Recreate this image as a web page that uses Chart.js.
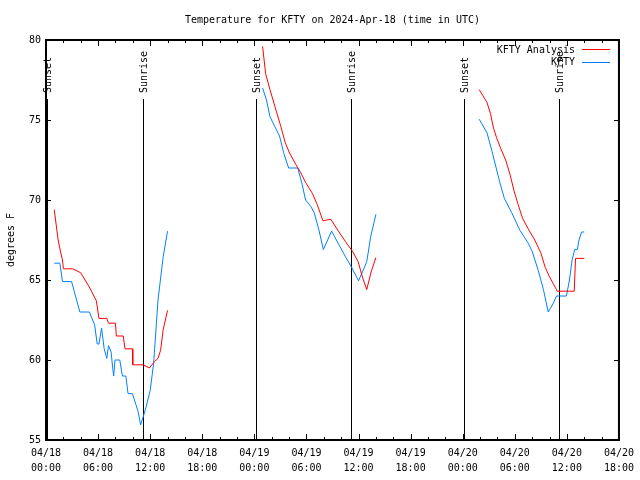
<!DOCTYPE html>
<html>
<head>
<meta charset="utf-8">
<script src="https://cdn.jsdelivr.net/npm/chart.js@4"></script>
<style>
  body { margin: 0; background: #fff; }
</style>
</head>
<body>
<canvas id="myChart" width="640" height="480"></canvas>
<script>
// hours since 04/18 00:00 UTC
const xTickLabels = [
    ['04/18', '00:00'], ['04/18', '06:00'], ['04/18', '12:00'], ['04/18', '18:00'],
    ['04/19', '00:00'], ['04/19', '06:00'], ['04/19', '12:00'], ['04/19', '18:00'],
    ['04/20', '00:00'], ['04/20', '06:00'], ['04/20', '12:00'], ['04/20', '18:00']
];

const analysisHours = [
    0.95, 1.4, 1.7, 1.9, 2.0, 3.1, 4.0, 5.05, 5.8, 6.1, 7.0, 7.2, 8.0, 8.1, 8.9, 9.1, 9.95, 10.0, 11.2, 11.9, 12.5, 12.9, 13.2, 13.5, 14.0,
    20,
    24.95, 25.3, 25.8, 26.5, 27.05, 27.55, 28.0, 28.8, 29.35, 29.9, 30.7, 31.25, 31.9, 32.8, 33.75, 34.5, 35.3, 35.95, 36.5, 36.95, 37.45, 38.0,
    44,
    49.9, 50.8, 51.2, 51.55, 51.9, 52.4, 52.95, 53.45, 53.9, 54.4, 54.9, 55.55, 56.3, 57.0, 57.5, 58.0, 58.9, 60.85, 61.0, 62.0
];
const analysisTemps = [
    69.4, 67.5, 66.7, 66.25, 65.7, 65.7, 65.45, 64.5, 63.7, 62.6, 62.6, 62.3, 62.3, 61.5, 61.5, 60.7, 60.7, 59.7, 59.7, 59.5, 59.9, 60.1, 60.6, 61.9, 63.1,
    null,
    79.6, 77.9, 76.9, 75.6, 74.6, 73.6, 73.0, 72.2, 71.7, 71.1, 70.4, 69.7, 68.7, 68.8, 68.0, 67.4, 66.8, 66.15, 65.1, 64.4, 65.5, 66.4,
    null,
    76.9, 76.1, 75.4, 74.5, 73.9, 73.2, 72.5, 71.6, 70.6, 69.7, 68.85, 68.2, 67.5, 66.7, 65.8, 65.2, 64.3, 64.3, 66.35, 66.35
];

const obsHours = [
    0.95, 1.6, 1.9, 2.95, 3.9, 5.0, 5.6, 5.9, 6.1, 6.4, 6.7, 7.0, 7.2, 7.5, 7.7, 7.8, 7.95, 8.5, 8.8, 9.2, 9.45, 9.95, 10.6, 10.9, 11.2, 11.55, 12.0, 12.4, 12.9, 13.5, 14.0,
    20,
    24.95, 25.4, 25.8, 26.9, 27.4, 27.95, 29.0, 29.5, 29.9, 30.5, 30.9, 31.45, 31.95, 32.9, 33.75, 34.5, 35.2, 36.0, 36.45, 36.95, 37.4, 38.0,
    44,
    49.9, 50.8, 51.35, 52.3, 52.8, 53.65, 54.6, 55.55, 56.0, 56.7, 57.3, 57.85, 58.4, 58.8, 59.95, 60.3, 60.6, 60.9, 61.2, 61.4, 61.7, 62.0
];
const obsTemps = [
    66.05, 66.05, 64.9, 64.9, 63.0, 63.0, 62.2, 61.0, 61.0, 62.0, 60.7, 60.1, 60.9, 60.5, 59.4, 59.0, 60.0, 60.0, 59.0, 59.0, 57.9, 57.9, 56.8, 55.95, 56.45, 57.1, 58.1, 59.8, 63.75, 66.45, 68.05,
    null,
    77.0, 76.25, 75.2, 74.0, 72.9, 72.0, 72.0, 71.0, 70.0, 69.6, 69.2, 68.1, 66.9, 68.05, 67.2, 66.45, 65.8, 64.95, 65.5, 66.15, 67.7, 69.1,
    null,
    75.05, 74.2, 73.1, 71.05, 70.1, 69.2, 68.1, 67.3, 66.8, 65.6, 64.4, 63.0, 63.5, 64.0, 64.0, 65.0, 66.25, 66.9, 66.9, 67.5, 68.0, 68.0
];

const sunsetHours = [0.07, 24.2, 48.1];
const sunriseHours = [11.17, 35.1, 59.1];

const FONT = 'DejaVu Sans Mono';

function toPoints(xs, ys) {
    return xs.map((x, i) => ({ x: x, y: ys[i] }));
}

// gnuplot style frame, inward ticks, sunrise/sunset markers and legend
const framePlugin = {
    id: 'frame',
    beforeDatasetsDraw(chart) {
        const ctx = chart.ctx;
        const area = chart.chartArea;
        const xs = chart.scales.x;
        ctx.save();
        ctx.strokeStyle = '#000';
        ctx.lineWidth = 1;
        ctx.fillStyle = '#000';
        ctx.font = '10px "' + FONT + '"';
        const marks = sunsetHours.map(h => [h, 'Sunset']).concat(sunriseHours.map(h => [h, 'Sunrise']));
        marks.forEach(m => {
            const px = Math.round(xs.getPixelForValue(m[0])) + 0.5;
            ctx.beginPath();
            ctx.moveTo(px, 99);
            ctx.lineTo(px, area.bottom);
            ctx.stroke();
            ctx.save();
            ctx.translate(px + 1, 93);
            ctx.rotate(-Math.PI / 2);
            ctx.textAlign = 'left';
            ctx.textBaseline = 'middle';
            ctx.fillText(m[1], 0, 0);
            ctx.restore();
        });
        ctx.restore();
    },
    afterDatasetsDraw(chart) {
        const ctx = chart.ctx;
        const area = chart.chartArea;
        const xs = chart.scales.x;
        const ys = chart.scales.y;
        ctx.save();
        ctx.strokeStyle = '#000';
        ctx.lineWidth = 1;
        ctx.beginPath();
        for (let h = 0; h <= 66; h += 2) {
            const px = Math.round(xs.getPixelForValue(h)) + 0.5;
            const len = h % 6 === 0 ? 6 : 3;
            ctx.moveTo(px, area.bottom);
            ctx.lineTo(px, area.bottom - len);
            ctx.moveTo(px, area.top);
            ctx.lineTo(px, area.top + len);
        }
        for (let v = 55; v <= 80; v += 5) {
            const py = Math.round(ys.getPixelForValue(v)) + 0.5;
            ctx.moveTo(area.left, py);
            ctx.lineTo(area.left + 5, py);
            ctx.moveTo(area.right, py);
            ctx.lineTo(area.right - 5, py);
        }
        ctx.stroke();
        ctx.lineWidth = 2;
        ctx.strokeRect(area.left, area.top, area.right - area.left, area.bottom - area.top);

        // legend
        ctx.font = '10px "' + FONT + '"';
        ctx.textAlign = 'right';
        ctx.textBaseline = 'middle';
        chart.data.datasets.forEach((ds, i) => {
            const y = 50 + i * 12.5;
            ctx.fillStyle = '#000';
            ctx.fillText(ds.label, 575, y);
            ctx.strokeStyle = ds.borderColor;
            ctx.lineWidth = 1;
            ctx.beginPath();
            ctx.moveTo(582, Math.round(y) - 0.5);
            ctx.lineTo(610, Math.round(y) - 0.5);
            ctx.stroke();
        });
        ctx.restore();
    }
};

const ctx = document.getElementById('myChart').getContext('2d');
new Chart(ctx, {
    type: 'line',
    data: {
        datasets: [{
            label: 'KFTY Analysis',
            data: toPoints(analysisHours, analysisTemps),
            borderColor: '#ff0000',
            borderWidth: 1,
            pointRadius: 0,
            tension: 0,
            fill: false,
            spanGaps: false
        }, {
            label: 'KFTY',
            data: toPoints(obsHours, obsTemps),
            borderColor: '#0080ff',
            borderWidth: 1,
            pointRadius: 0,
            tension: 0,
            fill: false,
            spanGaps: false
        }]
    },
    options: {
        responsive: false,
        animation: false,
        layout: { padding: { top: 0, right: 20, bottom: 0, left: 0 } },
        plugins: {
            legend: { display: false },
            tooltip: { enabled: false },
            title: {
                display: true,
                fullSize: false,
                text: 'Temperature for KFTY on 2024-Apr-18 (time in UTC)',
                color: '#000',
                font: { family: FONT, size: 10, weight: 'normal', lineHeight: 1.2 },
                padding: { top: 14, bottom: 14 }
            }
        },
        scales: {
            x: {
                type: 'linear',
                min: 0,
                max: 66,
                afterFit(scale) { scale.height = 40; },
                grid: { display: false, drawTicks: false },
                border: { display: false },
                ticks: {
                    stepSize: 6,
                    autoSkip: false,
                    maxRotation: 0,
                    padding: 6,
                    color: '#000',
                    font: { family: FONT, size: 10, lineHeight: 1.5 },
                    callback: v => xTickLabels[Math.round(v / 6)]
                }
            },
            y: {
                min: 55,
                max: 80,
                afterFit(scale) { scale.width = 46; },
                grid: { display: false, drawTicks: false },
                border: { display: false },
                title: {
                    display: true,
                    text: 'degrees F',
                    color: '#000',
                    font: { family: FONT, size: 10, lineHeight: 1.2 },
                    padding: { top: 5, bottom: 0 }
                },
                ticks: {
                    stepSize: 5,
                    padding: 5,
                    color: '#000',
                    font: { family: FONT, size: 10 }
                }
            }
        }
    },
    plugins: [framePlugin]
});
</script>
</body>
</html>
